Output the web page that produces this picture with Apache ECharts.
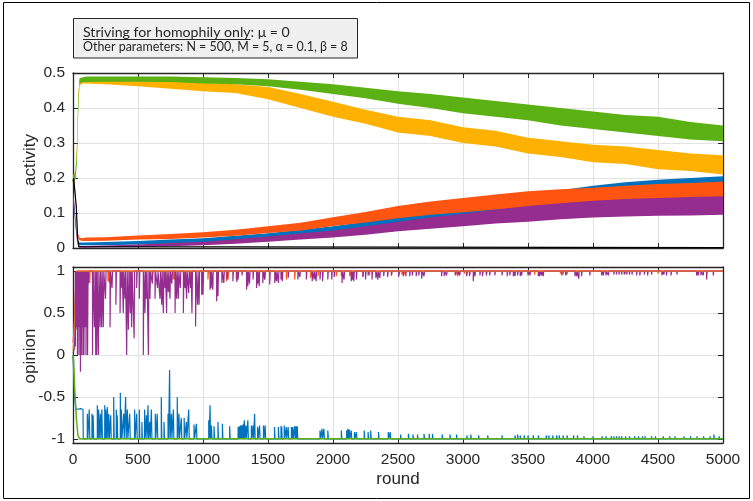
<!DOCTYPE html>
<html><head><meta charset="utf-8">
<script src="https://cdn.jsdelivr.net/npm/echarts@6/dist/echarts.min.js"></script>
<style>html,body{margin:0;padding:0;background:#fff}#c{width:753px;height:501px}</style>
</head><body><div id="c"></div>
<script>
// ---------- DATA ----------
const xTicks = [0,500,1000,1500,2000,2500,3000,3500,4000,4500,5000];
const activityTicks = [0,0.1,0.2,0.3,0.4,0.5];
const opinionTicks = [-1,-0.5,0,0.5,1];

// activity: envelope (low / high) of each noisy series at these rounds
const rounds = [0,10,20,30,40,50,75,100,250,500,750,1000,1250,1500,1750,2000,2250,2500,2750,3000,3250,3500,3750,4000,4250,4500,4750,5000];
const greenLo  = [0.19,0.19,0.2,0.24,0.38,0.47,0.474,0.474,0.475,0.475,0.474,0.47,0.468,0.462,0.452,0.44,0.428,0.412,0.4,0.385,0.375,0.365,0.35,0.34,0.33,0.32,0.31,0.305];
const greenHi  = [0.21,0.21,0.22,0.28,0.42,0.485,0.488,0.49,0.49,0.49,0.49,0.488,0.486,0.482,0.475,0.468,0.458,0.448,0.44,0.43,0.42,0.41,0.4,0.39,0.38,0.375,0.36,0.35];
const yellowLo = [0.19,0.19,0.2,0.27,0.41,0.465,0.47,0.47,0.468,0.462,0.455,0.448,0.443,0.425,0.4,0.375,0.355,0.33,0.32,0.3,0.29,0.27,0.26,0.245,0.24,0.225,0.22,0.21];
const yellowHi = [0.21,0.21,0.23,0.3,0.44,0.48,0.482,0.482,0.484,0.482,0.478,0.472,0.468,0.46,0.44,0.418,0.395,0.375,0.365,0.345,0.335,0.315,0.305,0.295,0.29,0.28,0.27,0.265];
const orangeLo = [0.2,0.18,0.13,0.07,0.03,0.022,0.02,0.02,0.021,0.024,0.026,0.03,0.035,0.043,0.05,0.063,0.073,0.085,0.095,0.102,0.11,0.116,0.12,0.122,0.126,0.128,0.13,0.13];
const orangeHi = [0.21,0.2,0.15,0.09,0.04,0.03,0.028,0.03,0.031,0.036,0.04,0.045,0.052,0.062,0.072,0.088,0.103,0.12,0.133,0.143,0.153,0.162,0.168,0.172,0.178,0.183,0.186,0.19];
const blueLo   = [0.13,0.1,0.06,0.03,0.012,0.008,0.008,0.008,0.008,0.01,0.012,0.015,0.02,0.025,0.032,0.04,0.05,0.062,0.07,0.078,0.09,0.1,0.11,0.12,0.128,0.135,0.14,0.145];
const blueHi   = [0.15,0.12,0.08,0.04,0.02,0.016,0.016,0.016,0.017,0.02,0.024,0.028,0.035,0.042,0.052,0.062,0.075,0.09,0.105,0.118,0.135,0.15,0.165,0.178,0.188,0.195,0.2,0.205];
const purpleLo = [0.14,0.11,0.06,0.02,0.003,0.001,0.001,0.001,0.002,0.003,0.005,0.008,0.012,0.018,0.024,0.03,0.038,0.048,0.055,0.062,0.07,0.075,0.082,0.087,0.09,0.092,0.093,0.095];
const purpleHi = [0.16,0.13,0.08,0.03,0.008,0.006,0.006,0.006,0.007,0.01,0.014,0.018,0.025,0.033,0.042,0.05,0.062,0.075,0.088,0.098,0.11,0.12,0.128,0.135,0.14,0.143,0.146,0.148];
const blackRounds = [0,5,15,25,35,45,60,5000];
const blackValues = [0.19,0.2,0.2,0.12,0.03,0.004,0.001,0.001];

// opinion: start transients
const greenOpRounds = [0,5,13,26,38,51,5000];
const greenOpValues = [0,-0.1,-0.4,-0.76,-0.96,-1,-1];
const yellowOpRounds = [0,8,15,22,28,5000];
const yellowOpValues = [0.05,0.2,0.5,0.85,1,1];
const orangeOpRounds = [0,8,15,22,28];
const orangeOpValues = [0.15,0.3,0.6,0.9,1];
const purpleOpRounds = [0,10,16];
const purpleOpValues = [0.02,0.08,0.3];
const blueOpRounds = [0,5,10,15,20,25,38,60,77];
const blueOpValues = [0,-0.2,-0.45,-0.55,-0.62,-0.65,-0.66,-0.64,-0.65];

// opinion: excursions away from the consensus value [round, value]
const purpleSpikes = [[18,0.1],[22,0.3],[26,0.6],[30,0.33],[34,0],[38,0.33],[42,0.5],[46,0],[50,0.33],[54,0.67],[57,-0.2],[60,0.33],[64,0],[68,0.33],[72,0.5],[76,0],[80,0.33],[84,0],[88,0.33],[92,0.5],[96,0.33],[100,0],[104,0.33],[108,0.67],[112,0],[118,0.86],
[150,0],[165,0.33],[175,0],[182,0],[195,0],[208,0.33],[220,0.33],[233,0.33],[250,0.67],[285,0.33],[300,0.8],[330,0.6],[362,0.5],[375,0.8],[387,0.5],[400,0.67],[413,0],[426,0.3],[440,0.5],[451,0.33],[470,0.2],[490,0.8],[510,0.67],[541,0],[554,0.5],[565,0.67],[580,0],[592,0.67],[610,0.85],[631,0.67],[650,0.8],[669,0.67],[682,0.6],[695,0.5],[708,0.8],[720,0.5],[733,0.75],[746,0.67],[760,0.85],[785,0.5],[797,0.67],[810,0.67],[825,0.8],[849,0.5],[862,0.8],[874,0.67],[890,0.74],[905,0.8],[915,0.5],[943,0.34],[958,0.6],[970,0.6],[990,0.72],[1000,0.72],
[1054,0.78],[1062,0.8],[1075,0.78],[1105,0.64],[1115,0.7],[1145,0.86],[1160,0.86],[1185,0.9],[1230,0.88],[1260,0.87],[1270,0.9],[1300,0.95],[1335,0.78],[1345,0.82],[1358,0.85],[1385,0.9],[1412,0.8],[1420,0.85],[1432,0.82],[1460,0.86],[1475,0.9],[1513,0.84],[1552,0.86],[1565,0.88],[1580,0.86],[1600,0.9],[1610,0.88],[1655,0.92],[1730,0.9],[1745,0.93],[1795,0.9],
[1840,0.88],[1855,0.9],[1870,0.88],[1900,0.9],[1920,0.88],[1960,0.9],[1990,0.9],[2010,0.93],[2070,0.86],[2085,0.9],[2140,0.88],[2150,0.9],[2160,0.88],[2180,0.9],[2230,0.93],[2250,0.9],[2270,0.95],[2300,0.9],[2330,0.92],[2345,0.9],[2360,0.92],[2390,0.94],[2420,0.93],[2450,0.95],[2505,0.93],
[2540,0.94],[2560,0.94],[2590,0.94],[2610,0.95],[2640,0.94],[2660,0.95],[2682,0.91],[2700,0.94],[2835,0.94],[2855,0.94],[2874,0.95],[2940,0.95],[2960,0.94],[2975,0.95],[3028,0.94],[3050,0.94],[3079,0.88],[3092,0.94],[3130,0.95],[3150,0.94],[3180,0.95],[3205,0.95],[3245,0.95],[3300,0.95],[3340,0.94],[3360,0.95],[3387,0.94],[3400,0.94],[3420,0.95],[3440,0.94],[3451,0.95],[3500,0.95],[3515,0.95],[3579,0.94],[3590,0.94],[3605,0.95],[3617,0.94],[3760,0.95],[3790,0.95],[3861,0.94],[3875,0.94],[3890,0.91],[3912,0.94],[3975,0.95],[4066,0.95],[4080,0.95],[4100,0.95],[4118,0.95],[4160,0.96],[4180,0.96],[4200,0.96],[4220,0.96],[4240,0.96],[4260,0.96],[4280,0.96],[4300,0.96],[4335,0.95],[4360,0.95],[4395,0.96],[4420,0.95],[4450,0.96],[4530,0.95],[4545,0.96],[4565,0.95],[4600,0.95],[4645,0.96],[4797,0.95],[4810,0.95],[4830,0.95],[4848,0.95],[4874,0.9],[4925,0.95]];
const orangeSpikes = [[115,0.84],[128,0.86],[154,0.84],[269,0.88],[280,0.86],[372,0.86],[385,0.9],[436,0.86],[450,0.86],[590,0.88],[610,0.9],[705,0.9],[769,0.9],[780,0.9],[859,0.9],[905,0.92],[1000,0.86],[1038,0.9],[1180,0.88],[1193,0.9],[1256,0.9],[1474,0.9],[1641,0.9],[1705,0.9],[1828,0.92],[1834,0.94],[1885,0.94],[2026,0.94],[2064,0.94],[2128,0.94],[2141,0.94],[2231,0.94],[2280,0.95],[2330,0.95],[2449,0.95],[2510,0.96],[2530,0.96],[2550,0.96],[2690,0.96],[2950,0.96],[3010,0.97],[3030,0.96],[3050,0.96],[3180,0.97],[3500,0.97],[3550,0.96],[3750,0.97],[3770,0.96],[3790,0.96],[3800,0.96],[4100,0.97],[4250,0.97],[4500,0.97]];
const blueSpikes = [[110,-0.7],[125,-0.65],[146,-0.7],[155,-0.72],[187,-0.6],[197,-0.65],[210,-0.7],[222,-0.65],[244,-0.6],[252,-0.65],[264,-0.62],[275,-0.7],[290,-0.72],[313,-0.5],[333,-0.65],[340,-0.72],[364,-0.45],[372,-0.65],[390,-0.7],[405,-0.5],[418,-0.65],[436,-0.7],[474,-0.65],[490,-0.7],[510,-0.65],[530,-0.8],[551,-0.65],[565,-0.72],[577,-0.6],[590,-0.8],[603,-0.65],[633,-0.7],[648,-0.7],[679,-0.5],[700,-0.8],[731,-0.7],[743,-0.18],[757,-0.7],[772,-0.65],[802,-0.5],[815,-0.7],[833,-0.75],[855,-0.75],[872,-0.8],[890,-0.65],[931,-0.83],[949,-0.82],
[1044,-0.78],[1054,-0.6],[1065,-0.84],[1085,-0.85],[1115,-0.8],[1149,-0.82],[1205,-0.85],[1270,-0.86],[1280,-0.85],[1290,-0.84],[1300,-0.84],[1310,-0.82],[1318,-0.78],[1330,-0.84],[1345,-0.78],[1372,-0.84],[1385,-0.84],[1397,-0.7],[1420,-0.86],[1435,-0.84],[1465,-0.84],[1478,-0.84],[1550,-0.86],[1580,-0.86],[1600,-0.85],[1605,-0.85],[1625,-0.84],[1640,-0.86],[1655,-0.86],[1680,-0.86],[1690,-0.86],[1705,-0.85],[1715,-0.85],[1725,-0.85],
[1900,-0.9],[1915,-0.88],[1930,-0.88],[1960,-0.9],[2064,-0.9],[2105,-0.9],[2115,-0.88],[2125,-0.89],[2140,-0.9],[2165,-0.92],[2180,-0.92],[2240,-0.9],[2270,-0.92],[2290,-0.9],[2350,-0.92],[2425,-0.92],[2440,-0.92],[2520,-0.95],[2580,-0.94],[2615,-0.95],[2650,-0.95],[2700,-0.94],[2740,-0.94],[2765,-0.94],[2840,-0.95],[2900,-0.95],[2950,-0.95],[3030,-0.96],[3060,-0.95],[3120,-0.96],[3190,-0.96],[3300,-0.96],[3400,-0.96],[3420,-0.95],[3440,-0.96],[3470,-0.96],[3500,-0.96],[3540,-0.96],[3580,-0.96],[3640,-0.96],[3660,-0.96],[3690,-0.96],[3720,-0.96],[3740,-0.96],[3770,-0.96],[3800,-0.96],[3850,-0.96],[3880,-0.96],[3930,-0.97],[4000,-0.97],[4070,-0.97],[4100,-0.97],[4140,-0.97],[4160,-0.97],[4180,-0.97],[4200,-0.97],[4220,-0.97],[4250,-0.97],[4280,-0.97],[4320,-0.97],[4350,-0.97],[4380,-0.97],[4400,-0.97],[4450,-0.97],[4480,-0.97],[4540,-0.97],[4590,-0.97],[4630,-0.97],[4700,-0.97],[4750,-0.97],[4800,-0.97],[4850,-0.97],[4900,-0.97],[4930,-0.95],[4970,-0.97]];

const titleMain = 'Striving for homophily only';
const titleRest = ': μ = 0';
const subtitle = 'Other parameters: N = 500, M = 5, α = 0.1, β = 8';

// ---------- STYLE ----------
const C = {blue:'#0072BD', orange:'#FF5510', yellow:'#FFB100', purple:'#952C90', green:'#5BB014', black:'#000000'};
const AX = '#262626', GRIDC = '#e2e2e2';
const TICKFONT = {fontFamily:'Liberation Sans, Arial, sans-serif', fontSize:15.5, color:AX};

function band(color, lo, hi, xi, yi) {
  const data = rounds.map((r,i)=>[r, lo[i], hi[i]]);
  return {type:'custom', xAxisIndex:xi, yAxisIndex:yi, data, clip:true, silent:true,
    encode:{x:0, y:[1,2]},
    renderItem:(params, api)=>{
      if (params.dataIndex !== 0) return null;
      const pts = [];
      for (let i=0;i<data.length;i++) pts.push(api.coord([data[i][0], data[i][2]]));
      for (let i=data.length-1;i>=0;i--) pts.push(api.coord([data[i][0], data[i][1]]));
      return {type:'polygon', shape:{points:pts}, style:{fill:color}};
    }};
}
function zipPts(rs, vs){ return rs.map((r,i)=>[r, vs[i]]); }
function spikeLine(startR, startV, base, spikes, w) {
  const d = zipPts(startR, startV);
  let last = startR[startR.length-1];
  d.push([last+2, base]);
  spikes.slice().sort((a,b)=>a[0]-b[0]).forEach(([r,v])=>{
    d.push([r, base],[r, v],[r+w, v],[r+w, base]);
  });
  d.push([5000, base]);
  return d;
}
function line(color, data, xi, yi, width, extra) {
  return Object.assign({type:'line', xAxisIndex:xi, yAxisIndex:yi, data, showSymbol:false, symbol:'none',
    lineStyle:{color, width:width||1}, itemStyle:{color}, silent:true, clip:true}, extra||{});
}

const chart = echarts.init(document.getElementById('c'), null, {renderer:'canvas'});

const gridTop = {left:73, top:73, width:650, height:175};
const gridBot = {left:73, top:267, width:650, height:176};
const yMinOp = -1.05, yMaxOp = 1.05;
const gridLab = {left:73, width:650, top: gridBot.top + (yMaxOp-1)/(yMaxOp-yMinOp)*gridBot.height,
                 height: 2/(yMaxOp-yMinOp)*gridBot.height};

const axLine = {show:true, onZero:false, lineStyle:{color:AX, width:1.3}};
const tickIn = {show:true, inside:true, length:5, lineStyle:{color:AX, width:1}};
function xAx(grid, pos, labels, split) {
  return {type:'value', gridIndex:grid, position:pos, min:0, max:5000, interval:500,
    axisLine:axLine, axisTick:tickIn,
    axisLabel:{show:labels, margin:9, formatter:(v)=>String(v), ...TICKFONT},
    splitLine:{show:split, lineStyle:{color:GRIDC, width:1}}};
}

// measure text to fit the box text widths seen in the picture
const cv = document.createElement('canvas').getContext('2d');
function fitSize(txt, fam, target){ cv.font = '20px ' + fam; return 20*target/cv.measureText(txt).width; }
const FAM = 'Lato';
const s1 = fitSize(titleMain + titleRest, FAM, 207);
const s2 = fitSize(subtitle, FAM, 265);
cv.font = s1 + 'px ' + FAM;
const ulW = cv.measureText(titleMain).width;

const option = {
  animation:false,
  backgroundColor:'#fff',
  grid:[gridTop, gridBot, gridLab],
  xAxis:[
    xAx(0,'bottom',false,true),
    xAx(0,'top',false,false),
    xAx(1,'bottom',true,true),
    xAx(1,'top',false,false),
    {type:'value', gridIndex:2, min:0, max:5000, show:false}
  ],
  yAxis:[
    {type:'value', gridIndex:0, position:'left', min:0, max:0.5, interval:0.1, axisLine:axLine, axisTick:tickIn,
     axisLabel:{margin:8, ...TICKFONT}, splitLine:{show:true, lineStyle:{color:GRIDC}}},
    {type:'value', gridIndex:0, position:'right', min:0, max:0.5, interval:0.1, axisLine:axLine, axisTick:tickIn,
     axisLabel:{show:false}, splitLine:{show:false}},
    {type:'value', gridIndex:1, position:'left', min:yMinOp, max:yMaxOp, axisLine:axLine, axisTick:{show:false},
     axisLabel:{show:false}, splitLine:{show:false}},
    {type:'value', gridIndex:1, position:'right', min:yMinOp, max:yMaxOp, axisLine:axLine, axisTick:{show:false},
     axisLabel:{show:false}, splitLine:{show:false}},
    {type:'value', gridIndex:2, position:'left', min:-1, max:1, interval:0.5, axisLine:{show:false}, axisTick:tickIn,
     axisLabel:{margin:8, ...TICKFONT}, splitLine:{show:true, lineStyle:{color:GRIDC}}},
    {type:'value', gridIndex:2, position:'right', min:-1, max:1, interval:0.5, axisLine:{show:false}, axisTick:tickIn,
     axisLabel:{show:false}, splitLine:{show:false}}
  ],
  series:[
    band(C.blue, blueLo, blueHi, 0, 0),
    band(C.orange, orangeLo, orangeHi, 0, 0),
    band(C.yellow, yellowLo, yellowHi, 0, 0),
    band(C.purple, purpleLo, purpleHi, 0, 0),
    band(C.green, greenLo, greenHi, 0, 0),
    line(C.black, zipPts(blackRounds, blackValues), 0, 0, 1.2),

    line(C.blue, spikeLine(blueOpRounds, blueOpValues, -1, blueSpikes, 4), 2, 2, 1.2),
    line(C.orange, spikeLine(orangeOpRounds, orangeOpValues, 1, orangeSpikes, 4), 2, 2, 1.2),
    line(C.yellow, zipPts(yellowOpRounds, yellowOpValues), 2, 2, 1.2),
    line(C.purple, spikeLine(purpleOpRounds, purpleOpValues, 1, purpleSpikes, 4), 2, 2, 1.2),
    line(C.orange, [[28,1],[5000,1]], 2, 2, 1.5, {lineStyle:{color:'#d8623f', width:1.6, opacity:0.9}}),
    line(C.green, zipPts(greenOpRounds, greenOpValues), 2, 2, 1.5)
  ],
  graphic:[
    {type:'rect', shape:{x:3.5, y:2.5, width:746, height:496}, style:{fill:null, stroke:'#000', lineWidth:1}, silent:true, z:100},
    {type:'rect', shape:{x:73.5, y:18.5, width:284, height:39.5}, style:{fill:'#f0f0f0', stroke:'#262626', lineWidth:1}, silent:true, z:100},
    {type:'text', x:83, y:32.5, style:{text:titleMain + titleRest, font: s1+'px '+FAM, fill:'#262626', verticalAlign:'middle', textAlign:'left'}, silent:true, z:101},
    {type:'line', shape:{x1:83, y1:39.5, x2:83+ulW, y2:39.5}, style:{stroke:'#262626', lineWidth:1}, silent:true, z:101},
    {type:'text', x:83, y:47, style:{text:subtitle, font: s2+'px '+FAM, fill:'#262626', verticalAlign:'middle', textAlign:'left'}, silent:true, z:101},
    {type:'text', x:30, y:160, rotation:Math.PI/2, style:{text:'activity', font:'17px "Liberation Sans", Arial, sans-serif', fill:'#262626', textAlign:'center', verticalAlign:'middle'}, silent:true, z:101},
    {type:'text', x:30, y:356, rotation:Math.PI/2, style:{text:'opinion', font:'17px "Liberation Sans", Arial, sans-serif', fill:'#262626', textAlign:'center', verticalAlign:'middle'}, silent:true, z:101},
    {type:'text', x:398, y:479, style:{text:'round', font:'17px "Liberation Sans", Arial, sans-serif', fill:'#262626', textAlign:'center', verticalAlign:'middle'}, silent:true, z:101}
  ]
};
chart.setOption(option);
</script></body></html>
